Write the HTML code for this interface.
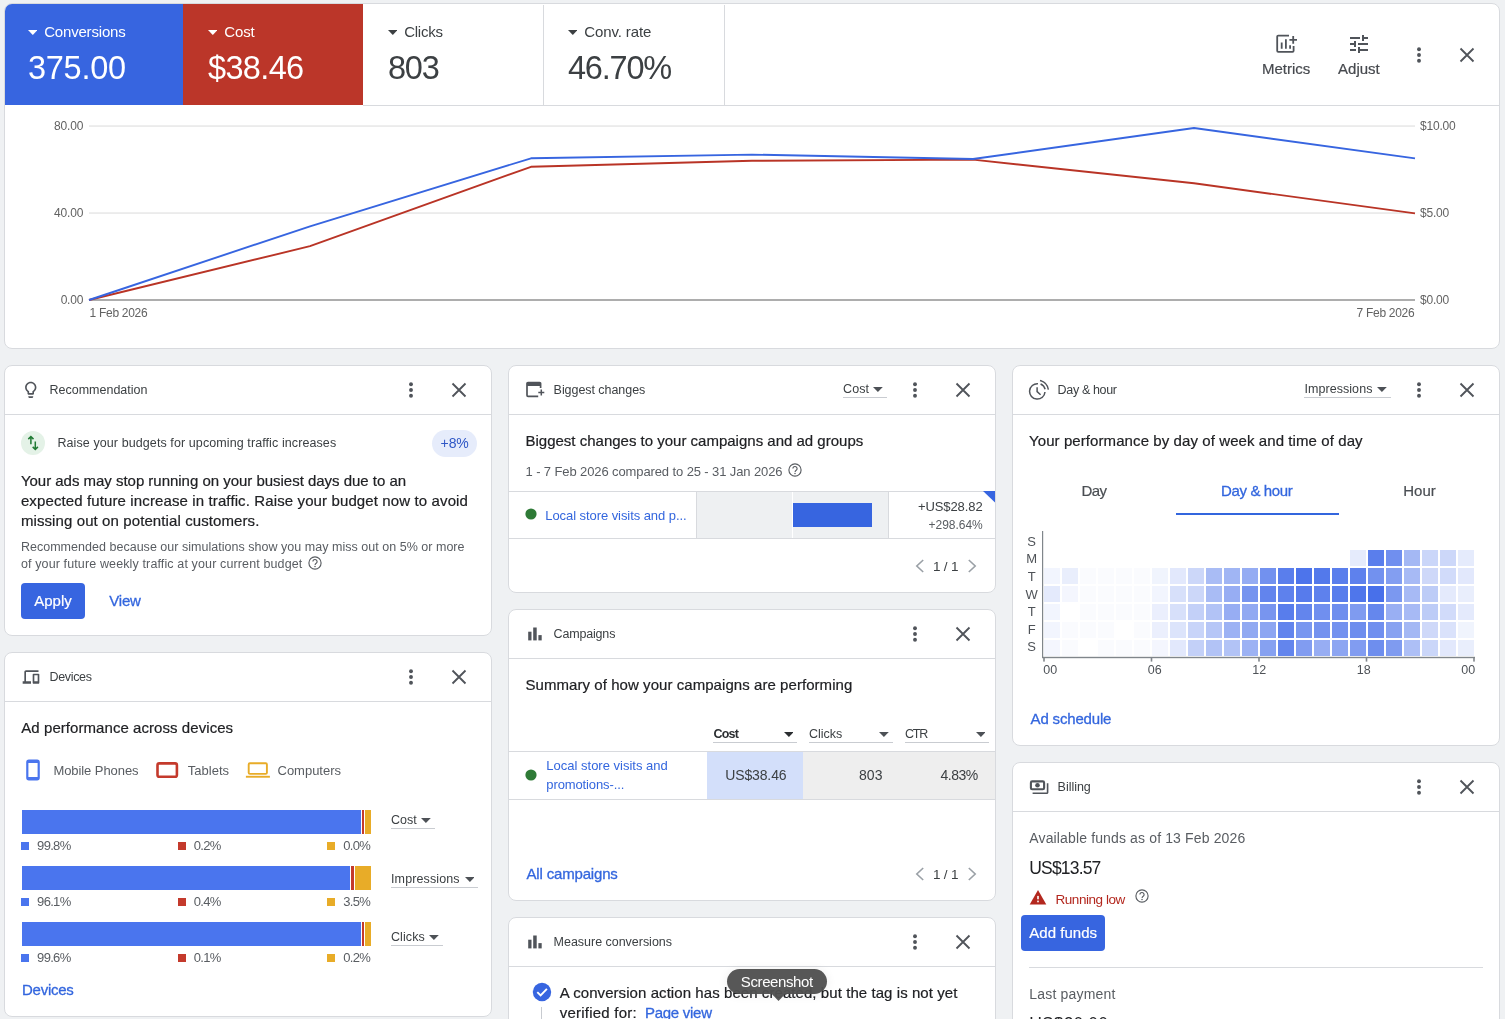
<!DOCTYPE html>
<html lang="en"><head><meta charset="utf-8"><title>Overview</title>
<style>
html,body{margin:0;padding:0;width:1505px;height:1019px;overflow:hidden}
body{width:1505px;height:1019px;position:relative;overflow:hidden;background:#eff1f3;
font-family:"Liberation Sans",sans-serif;-webkit-font-smoothing:antialiased}
.b{position:absolute;box-sizing:border-box;display:block}
.t{position:absolute;white-space:nowrap;line-height:1;margin:0}
.card{position:absolute;box-sizing:border-box;background:#fff;border:1px solid #d8dade;border-radius:8px}
#L{position:absolute;left:0;top:0;width:1505px;height:1019px;overflow:hidden;will-change:transform}
</style></head><body><div id="L">
<div class="card" style="left:4px;top:3px;width:1496px;height:346px;overflow:hidden;"></div>
<div class="b" style="left:5px;top:4px;width:178px;height:101px;background:#3765e0;border-radius:7px 0 0 0;"></div>
<div class="b" style="left:183px;top:4px;width:180px;height:101px;background:#bb3629;"></div>
<div class="b" style="left:363px;top:105px;width:1136px;height:1px;background:#d8dade;"></div>
<div class="b" style="left:543px;top:5px;width:1px;height:100px;background:#d8dade;"></div>
<div class="b" style="left:724px;top:5px;width:1px;height:100px;background:#d8dade;"></div>
<svg class="b" style="left:27.5px;top:29.6px;" width="9.6" height="5" viewBox="0 0 9.6 5"><path d="M0 0H9.6L4.8 5Z" fill="#fff"/></svg>
<div class="t" style="left:44.20px;top:24px;font-size:15px;color:#fff;letter-spacing:-0.187px;">Conversions</div>
<div class="t" style="left:28.00px;top:52px;font-size:32.5px;color:#fff;letter-spacing:-0.281px;">375.00</div>
<svg class="b" style="left:207.5px;top:29.6px;" width="9.6" height="5" viewBox="0 0 9.6 5"><path d="M0 0H9.6L4.8 5Z" fill="#fff"/></svg>
<div class="t" style="left:224.20px;top:24px;font-size:15px;color:#fff;letter-spacing:-0.081px;">Cost</div>
<div class="t" style="left:208.00px;top:52px;font-size:32.5px;color:#fff;letter-spacing:-0.641px;">$38.46</div>
<svg class="b" style="left:387.5px;top:29.6px;" width="9.6" height="5" viewBox="0 0 9.6 5"><path d="M0 0H9.6L4.8 5Z" fill="#3c4043"/></svg>
<div class="t" style="left:404.20px;top:24px;font-size:15px;color:#3c4043;letter-spacing:-0.240px;">Clicks</div>
<div class="t" style="left:388.00px;top:52px;font-size:32.5px;color:#3c4043;letter-spacing:-1.200px;">803</div>
<svg class="b" style="left:567.5px;top:29.6px;" width="9.6" height="5" viewBox="0 0 9.6 5"><path d="M0 0H9.6L4.8 5Z" fill="#3c4043"/></svg>
<div class="t" style="left:584.20px;top:24px;font-size:15px;color:#3c4043;letter-spacing:-0.099px;">Conv. rate</div>
<div class="t" style="left:568.00px;top:52px;font-size:32.5px;color:#3c4043;letter-spacing:-1.200px;">46.70%</div>
<svg class="b" style="left:1272.8px;top:30.7px;" width="26" height="24" viewBox="0 0 26 24"><path d="M16 4.6H5.2a1 1 0 0 0-1 1V19.8a1 1 0 0 0 1 1H19.6a1 1 0 0 0 1-1V15" fill="none" stroke="#50545a" stroke-width="1.8"/><path d="M8.7 11.4V17.8M12.9 8.2V17.8M17.1 14.3V17.8" stroke="#50545a" stroke-width="1.8" fill="none"/><path d="M16.4 8.9H24M20.2 5.1V12.7" stroke="#50545a" stroke-width="1.8" fill="none"/></svg>
<div class="t" style="left:1262.05px;top:61px;font-size:15px;color:#474a4f;letter-spacing:-0.006px;-webkit-text-stroke:0.2px #474a4f;">Metrics</div>
<svg class="b" style="left:1347px;top:32px;" width="24" height="24" viewBox="0 0 24 24"><path d="M3 17v2h6v-2H3zM3 5v2h10V5H3zm10 16v-2h8v-2h-8v-2h-2v6h2zM7 9v2H3v2h4v2h2V9H7zm14 4v-2H11v2h10zm-6-4h2V7h4V5h-4V3h-2v6z" fill="#50545a"/></svg>
<div class="t" style="left:1338.05px;top:61px;font-size:15px;color:#474a4f;-webkit-text-stroke:0.2px #474a4f;">Adjust</div>
<svg class="b" style="left:1415px;top:45px;" width="8" height="20" viewBox="0 -6 8 20"><circle cx="4" cy="-1.7999999999999998" r="1.95" fill="#50545a"/><circle cx="4" cy="4" r="1.95" fill="#50545a"/><circle cx="4" cy="9.8" r="1.95" fill="#50545a"/></svg>
<svg class="b" style="left:1457px;top:45px;" width="20" height="20" viewBox="0 0 20 20"><path d="M3.5 3.5L16.5 16.5M16.5 3.5L3.5 16.5" stroke="#50545a" stroke-width="1.85" fill="none"/></svg>
<svg class="b" style="left:0px;top:110px;" width="1505" height="230" viewBox="0 110 1505 230"><rect x="89" y="125.4" width="1326" height="1.3" fill="#e3e3e3"/><rect x="89" y="212.4" width="1326" height="1.3" fill="#e3e3e3"/><rect x="89" y="299.2" width="1326" height="1.6" fill="#9a9a9a"/><polyline points="89,300 310,246.2 531,166.8 752,160.8 973,159.6 1194,183.3 1415,213.4" fill="none" stroke="#b93426" stroke-width="1.9" stroke-linejoin="round"/><polyline points="89,300 310,226.3 531,158.3 752,154.6 973,159 1194,128 1415,158.4" fill="none" stroke="#3765e0" stroke-width="1.9" stroke-linejoin="round"/></svg>
<div class="t" style="left:54.12px;top:120px;font-size:12px;color:#626262;letter-spacing:-0.188px;">80.00</div>
<div class="t" style="left:1420.00px;top:120px;font-size:12px;color:#626262;letter-spacing:-0.184px;">$10.00</div>
<div class="t" style="left:54.12px;top:207px;font-size:12px;color:#626262;letter-spacing:-0.188px;">40.00</div>
<div class="t" style="left:1420.00px;top:207px;font-size:12px;color:#626262;letter-spacing:-0.188px;">$5.00</div>
<div class="t" style="left:60.63px;top:294px;font-size:12px;color:#626262;letter-spacing:-0.195px;">0.00</div>
<div class="t" style="left:1420.00px;top:294px;font-size:12px;color:#626262;letter-spacing:-0.188px;">$0.00</div>
<div class="t" style="left:89.60px;top:307px;font-size:12px;color:#626262;letter-spacing:-0.302px;">1 Feb 2026</div>
<div class="t" style="left:1356.60px;top:307px;font-size:12px;color:#626262;letter-spacing:-0.302px;">7 Feb 2026</div>
<div class="card" style="left:4px;top:365px;width:488px;height:271px;"></div>
<div class="b" style="left:5px;top:414px;width:486px;height:1px;background:#d8dade;"></div>
<div class="t" style="left:49.60px;top:384px;font-size:12.5px;color:#3c4043;letter-spacing:-0.013px;">Recommendation</div>
<svg class="b" style="left:406.9px;top:380.1px;" width="8" height="20" viewBox="0 -6 8 20"><circle cx="4" cy="-1.7999999999999998" r="1.95" fill="#50545a"/><circle cx="4" cy="4" r="1.95" fill="#50545a"/><circle cx="4" cy="9.8" r="1.95" fill="#50545a"/></svg>
<svg class="b" style="left:449.3px;top:380.1px;" width="20" height="20" viewBox="0 0 20 20"><path d="M3.5 3.5L16.5 16.5M16.5 3.5L3.5 16.5" stroke="#50545a" stroke-width="1.85" fill="none"/></svg>
<svg class="b" style="left:21.2px;top:380.3px;" width="19.5" height="19.5" viewBox="0 0 24 24"><path d="M9 21c0 .55.45 1 1 1h4c.55 0 1-.45 1-1v-1H9v1zm3-19C8.14 2 5 5.14 5 9c0 2.38 1.19 4.47 3 5.74V17c0 .55.45 1 1 1h6c.55 0 1-.45 1-1v-2.26c1.81-1.27 3-3.36 3-5.74 0-3.86-3.14-7-7-7zm2.85 11.1l-.85.6V16h-4v-2.3l-.85-.6C7.8 12.16 7 10.63 7 9c0-2.76 2.24-5 5-5s5 2.24 5 5c0 1.63-.8 3.16-2.15 4.1z" fill="#50545a"/></svg>
<svg class="b" style="left:21px;top:431px;" width="24" height="24" viewBox="0 0 24 24"><circle cx="12" cy="12" r="12" fill="#e4f2e7"/><path d="M9.9 13.2V5.6M7.3 8.1L9.9 5.5L12.5 8.1" fill="none" stroke="#1f7a33" stroke-width="1.5"/><path d="M14.3 10.6V18.4M11.7 15.9L14.3 18.5L16.9 15.9" fill="none" stroke="#1f7a33" stroke-width="1.5"/></svg>
<div class="t" style="left:57.40px;top:437px;font-size:12.5px;color:#3c4043;letter-spacing:0.095px;">Raise your budgets for upcoming traffic increases</div>
<div class="b" style="left:432px;top:429.5px;width:45px;height:27px;background:#e6ecfb;border-radius:14px;"></div>
<div class="t" style="left:440.60px;top:436px;font-size:14px;color:#2f57c6;letter-spacing:-0.105px;">+8%</div>
<div class="t" style="left:20.90px;top:473px;font-size:15px;color:#202124;letter-spacing:-0.021px;-webkit-text-stroke:0.2px #202124;">Your ads may stop running on your busiest days due to an</div>
<div class="t" style="left:20.90px;top:493px;font-size:15px;color:#202124;letter-spacing:0.119px;-webkit-text-stroke:0.2px #202124;">expected future increase in traffic. Raise your budget now to avoid</div>
<div class="t" style="left:20.90px;top:513px;font-size:15px;color:#202124;letter-spacing:0.099px;-webkit-text-stroke:0.2px #202124;">missing out on potential customers.</div>
<div class="t" style="left:20.90px;top:541px;font-size:12.5px;color:#595d62;letter-spacing:0.025px;">Recommended because our simulations show you may miss out on 5% or more</div>
<div class="t" style="left:20.90px;top:558px;font-size:12.5px;color:#595d62;letter-spacing:0.127px;">of your future weekly traffic at your current budget</div>
<svg class="b" style="left:306.7px;top:555.4px;" width="16" height="16" viewBox="0 0 16 16"><circle cx="8" cy="8" r="6.1" fill="none" stroke="#595d62" stroke-width="1.15"/><path d="M5.9 6.6a2.1 2.1 0 1 1 3.3 1.7c-.7.5-1.1.9-1.1 1.7" fill="none" stroke="#595d62" stroke-width="1.15"/><circle cx="8" cy="11.5" r=".75" fill="#595d62"/></svg>
<div class="b" style="left:21px;top:583px;width:64px;height:36px;background:#3765e0;border-radius:4px;"></div>
<div class="t" style="left:34.20px;top:593px;font-size:15px;color:#fff;letter-spacing:0.019px;-webkit-text-stroke:0.2px #fff;">Apply</div>
<div class="t" style="left:109.30px;top:593px;font-size:15px;color:#3366de;letter-spacing:-0.214px;-webkit-text-stroke:0.3px #3366de;">View</div>
<div class="card" style="left:4px;top:652px;width:488px;height:365px;"></div>
<div class="b" style="left:5px;top:701px;width:486px;height:1px;background:#d8dade;"></div>
<div class="t" style="left:49.60px;top:671px;font-size:12.5px;color:#3c4043;letter-spacing:-0.360px;">Devices</div>
<svg class="b" style="left:406.9px;top:667.1px;" width="8" height="20" viewBox="0 -6 8 20"><circle cx="4" cy="-1.7999999999999998" r="1.95" fill="#50545a"/><circle cx="4" cy="4" r="1.95" fill="#50545a"/><circle cx="4" cy="9.8" r="1.95" fill="#50545a"/></svg>
<svg class="b" style="left:449.3px;top:667.1px;" width="20" height="20" viewBox="0 0 20 20"><path d="M3.5 3.5L16.5 16.5M16.5 3.5L3.5 16.5" stroke="#50545a" stroke-width="1.85" fill="none"/></svg>
<svg class="b" style="left:21.3px;top:667.3px;" width="20" height="20" viewBox="0 -960 960 960"><path d="M80-160v-120h80v-440q0-33 23.500-56.500T240-800h600v80H240v440h240v120H80Zm520 0q-17 0-28.500-11.500T560-200v-400q0-17 11.500-28.500T600-640h240q17 0 28.500 11.500T880-600v400q0 17-11.500 28.500T840-160H600Zm40-120h160v-280H640v280Z" fill="#50545a"/></svg>
<div class="t" style="left:21.30px;top:720px;font-size:15px;color:#202124;letter-spacing:0.061px;-webkit-text-stroke:0.2px #202124;">Ad performance across devices</div>
<svg class="b" style="left:25px;top:758px;" width="16" height="24" viewBox="0 0 16 24"><rect x="2.3" y="2.7" width="11.4" height="18.6" rx="1.6" fill="none" stroke="#4a75ee" stroke-width="2.2"/><rect x="2" y="2" width="12" height="3" rx="1" fill="#4a75ee"/><rect x="2" y="19" width="12" height="3" rx="1" fill="#4a75ee"/></svg>
<div class="t" style="left:53.40px;top:764px;font-size:13px;color:#595d62;letter-spacing:-0.067px;">Mobile Phones</div>
<svg class="b" style="left:155px;top:761px;" width="24" height="18" viewBox="0 0 24 18"><rect x="2.5" y="2.4" width="19.4" height="13.4" rx="1.8" fill="none" stroke="#c43a2c" stroke-width="2.6"/></svg>
<div class="t" style="left:187.80px;top:764px;font-size:13px;color:#595d62;">Tablets</div>
<svg class="b" style="left:245px;top:761px;" width="26" height="18" viewBox="0 0 26 18"><rect x="3.7" y="2.3" width="18.2" height="10.6" rx="1.2" fill="none" stroke="#e8ac28" stroke-width="1.9"/><rect x="0.9" y="14.8" width="24" height="1.9" fill="#e8ac28"/></svg>
<div class="t" style="left:277.50px;top:764px;font-size:13px;color:#595d62;letter-spacing:-0.010px;">Computers</div>
<div class="b" style="left:22px;top:810px;width:339.2px;height:24px;background:#4a75ee;"></div>
<div class="b" style="left:362.4px;top:810px;width:1.5px;height:24px;background:#c43a2c;"></div>
<div class="b" style="left:365.0px;top:810px;width:6.199999999999989px;height:24px;background:#e8ac28;"></div>
<div class="b" style="left:21.4px;top:842px;width:8px;height:8px;background:#4a75ee;"></div>
<div class="t" style="left:37.10px;top:839px;font-size:13px;color:#595d62;letter-spacing:-0.690px;">99.8%</div>
<div class="b" style="left:178.1px;top:842px;width:8px;height:8px;background:#c43a2c;"></div>
<div class="t" style="left:193.80px;top:839px;font-size:13px;color:#595d62;letter-spacing:-0.677px;">0.2%</div>
<div class="b" style="left:326.8px;top:842px;width:8px;height:8px;background:#e8ac28;"></div>
<div class="t" style="left:343.20px;top:839px;font-size:13px;color:#595d62;letter-spacing:-0.677px;">0.0%</div>
<div class="t" style="left:391.00px;top:814px;font-size:12.5px;color:#3c4043;">Cost</div>
<svg class="b" style="left:421px;top:818px;" width="9.8" height="4.9" viewBox="0 0 9.8 4.9"><path d="M0 0H9.8L4.9 4.9Z" fill="#4d5156"/></svg>
<div class="b" style="left:391px;top:827.9px;width:44px;height:1px;background:#c9ccd1;"></div>
<div class="b" style="left:22px;top:866px;width:327.9px;height:24px;background:#4a75ee;"></div>
<div class="b" style="left:351.3px;top:866px;width:2.599999999999966px;height:24px;background:#c43a2c;"></div>
<div class="b" style="left:355.0px;top:866px;width:16.19999999999999px;height:24px;background:#e8ac28;"></div>
<div class="b" style="left:21.4px;top:898px;width:8px;height:8px;background:#4a75ee;"></div>
<div class="t" style="left:37.10px;top:895px;font-size:13px;color:#595d62;letter-spacing:-0.690px;">96.1%</div>
<div class="b" style="left:178.1px;top:898px;width:8px;height:8px;background:#c43a2c;"></div>
<div class="t" style="left:193.80px;top:895px;font-size:13px;color:#595d62;letter-spacing:-0.677px;">0.4%</div>
<div class="b" style="left:326.8px;top:898px;width:8px;height:8px;background:#e8ac28;"></div>
<div class="t" style="left:343.20px;top:895px;font-size:13px;color:#595d62;letter-spacing:-0.677px;">3.5%</div>
<div class="t" style="left:391.00px;top:873px;font-size:12.5px;color:#3c4043;letter-spacing:0.122px;">Impressions</div>
<svg class="b" style="left:464.6px;top:877px;" width="9.8" height="4.9" viewBox="0 0 9.8 4.9"><path d="M0 0H9.8L4.9 4.9Z" fill="#4d5156"/></svg>
<div class="b" style="left:391px;top:886.9px;width:87px;height:1px;background:#c9ccd1;"></div>
<div class="b" style="left:22px;top:922px;width:339.2px;height:24px;background:#4a75ee;"></div>
<div class="b" style="left:362.4px;top:922px;width:1.5px;height:24px;background:#c43a2c;"></div>
<div class="b" style="left:365.0px;top:922px;width:6.199999999999989px;height:24px;background:#e8ac28;"></div>
<div class="b" style="left:21.4px;top:954px;width:8px;height:8px;background:#4a75ee;"></div>
<div class="t" style="left:37.10px;top:951px;font-size:13px;color:#595d62;letter-spacing:-0.690px;">99.6%</div>
<div class="b" style="left:178.1px;top:954px;width:8px;height:8px;background:#c43a2c;"></div>
<div class="t" style="left:193.80px;top:951px;font-size:13px;color:#595d62;letter-spacing:-0.677px;">0.1%</div>
<div class="b" style="left:326.8px;top:954px;width:8px;height:8px;background:#e8ac28;"></div>
<div class="t" style="left:343.20px;top:951px;font-size:13px;color:#595d62;letter-spacing:-0.677px;">0.2%</div>
<div class="t" style="left:391.00px;top:931px;font-size:12.5px;color:#3c4043;letter-spacing:0.074px;">Clicks</div>
<svg class="b" style="left:429px;top:935px;" width="9.8" height="4.9" viewBox="0 0 9.8 4.9"><path d="M0 0H9.8L4.9 4.9Z" fill="#4d5156"/></svg>
<div class="b" style="left:391px;top:944.9px;width:52.19999999999999px;height:1px;background:#c9ccd1;"></div>
<div class="t" style="left:22.00px;top:982px;font-size:15px;color:#3366de;letter-spacing:-0.258px;-webkit-text-stroke:0.3px #3366de;">Devices</div>
<div class="card" style="left:508px;top:365px;width:488px;height:228px;"></div>
<div class="b" style="left:509px;top:414px;width:486px;height:1px;background:#d8dade;"></div>
<div class="t" style="left:553.60px;top:384px;font-size:12.5px;color:#3c4043;letter-spacing:-0.052px;">Biggest changes</div>
<svg class="b" style="left:910.9px;top:380.1px;" width="8" height="20" viewBox="0 -6 8 20"><circle cx="4" cy="-1.7999999999999998" r="1.95" fill="#50545a"/><circle cx="4" cy="4" r="1.95" fill="#50545a"/><circle cx="4" cy="9.8" r="1.95" fill="#50545a"/></svg>
<svg class="b" style="left:953.3px;top:380.1px;" width="20" height="20" viewBox="0 0 20 20"><path d="M3.5 3.5L16.5 16.5M16.5 3.5L3.5 16.5" stroke="#50545a" stroke-width="1.85" fill="none"/></svg>
<svg class="b" style="left:526px;top:380.3px;" width="20" height="18" viewBox="0 0 20 18"><path d="M14.6 8V3.6a1 1 0 0 0-1-1H2a1 1 0 0 0-1 1V15.3a1 1 0 0 0 1 1H12.2" fill="none" stroke="#50545a" stroke-width="1.7"/><rect x="1" y="2.6" width="13.6" height="3.4" fill="#50545a"/><path d="M12.3 12.4H18.3M15.3 9.4V15.4" stroke="#50545a" stroke-width="1.5" fill="none"/></svg>
<div class="t" style="left:843.00px;top:383px;font-size:12.5px;color:#3c4043;letter-spacing:0.099px;">Cost</div>
<svg class="b" style="left:873.3px;top:387px;" width="9.8" height="4.9" viewBox="0 0 9.8 4.9"><path d="M0 0H9.8L4.9 4.9Z" fill="#4d5156"/></svg>
<div class="b" style="left:843px;top:397px;width:44px;height:1px;background:#c9ccd1;"></div>
<div class="t" style="left:525.50px;top:433px;font-size:15px;color:#202124;-webkit-text-stroke:0.2px #202124;">Biggest changes to your campaigns and ad groups</div>
<div class="t" style="left:525.50px;top:465px;font-size:13px;color:#595d62;letter-spacing:-0.108px;">1 - 7 Feb 2026 compared to 25 - 31 Jan 2026</div>
<svg class="b" style="left:786.7px;top:462.4px;" width="16" height="16" viewBox="0 0 16 16"><circle cx="8" cy="8" r="6.1" fill="none" stroke="#595d62" stroke-width="1.15"/><path d="M5.9 6.6a2.1 2.1 0 1 1 3.3 1.7c-.7.5-1.1.9-1.1 1.7" fill="none" stroke="#595d62" stroke-width="1.15"/><circle cx="8" cy="11.5" r=".75" fill="#595d62"/></svg>
<div class="b" style="left:509px;top:491px;width:486px;height:1px;background:#d8dade;"></div>
<div class="b" style="left:509px;top:538px;width:486px;height:1px;background:#d8dade;"></div>
<div class="b" style="left:696px;top:492px;width:96px;height:46px;background:#eef0f2;"></div>
<div class="b" style="left:793px;top:492px;width:95px;height:46px;background:#eef0f2;"></div>
<div class="b" style="left:696px;top:492px;width:1px;height:46px;background:#d8dade;"></div>
<div class="b" style="left:888px;top:492px;width:1px;height:46px;background:#d8dade;"></div>
<div class="b" style="left:793px;top:503px;width:79px;height:24px;background:#3765e0;"></div>
<svg class="b" style="left:983px;top:491px;" width="12" height="12" viewBox="0 0 12 12"><path d="M0 0H12V11.5Z" fill="#3765e0"/></svg>
<svg class="b" style="left:525.2px;top:508.2px;" width="12" height="12" viewBox="0 0 12 12"><circle cx="6" cy="6" r="5.6" fill="#2e7a36"/></svg>
<div class="t" style="left:545.30px;top:509px;font-size:13px;color:#3366de;letter-spacing:-0.068px;">Local store visits and p...</div>
<div class="t" style="left:917.90px;top:500px;font-size:13px;color:#3c4043;letter-spacing:-0.077px;">+US$28.82</div>
<div class="t" style="left:928.60px;top:519px;font-size:12px;color:#595d62;letter-spacing:-0.040px;">+298.64%</div>
<svg class="b" style="left:915px;top:559.4px;" width="10" height="14" viewBox="0 0 10 14"><path d="M8.2 1L1.8 7L8.2 13" fill="none" stroke="#9aa0a6" stroke-width="1.6"/></svg>
<div class="t" style="left:932.90px;top:560px;font-size:13.5px;color:#3c4043;letter-spacing:-0.192px;">1 / 1</div>
<svg class="b" style="left:967px;top:559.4px;" width="10" height="14" viewBox="0 0 10 14"><path d="M1.8 1L8.2 7L1.8 13" fill="none" stroke="#9aa0a6" stroke-width="1.6"/></svg>
<div class="card" style="left:508px;top:609px;width:488px;height:292px;"></div>
<div class="b" style="left:509px;top:658px;width:486px;height:1px;background:#d8dade;"></div>
<div class="t" style="left:553.60px;top:628px;font-size:12.5px;color:#3c4043;letter-spacing:-0.179px;">Campaigns</div>
<svg class="b" style="left:910.9px;top:624.1px;" width="8" height="20" viewBox="0 -6 8 20"><circle cx="4" cy="-1.7999999999999998" r="1.95" fill="#50545a"/><circle cx="4" cy="4" r="1.95" fill="#50545a"/><circle cx="4" cy="9.8" r="1.95" fill="#50545a"/></svg>
<svg class="b" style="left:953.3px;top:624.1px;" width="20" height="20" viewBox="0 0 20 20"><path d="M3.5 3.5L16.5 16.5M16.5 3.5L3.5 16.5" stroke="#50545a" stroke-width="1.85" fill="none"/></svg>
<svg class="b" style="left:527px;top:626px;" width="16" height="16" viewBox="0 0 16 16"><rect x="1.2" y="5.7" width="3.3" height="8.7" fill="#50545a"/><rect x="6.2" y="1.5" width="3.5" height="12.9" fill="#50545a"/><rect x="11.4" y="9.1" width="3.3" height="5.3" fill="#50545a"/></svg>
<div class="t" style="left:525.50px;top:677px;font-size:15px;color:#202124;letter-spacing:0.058px;-webkit-text-stroke:0.2px #202124;">Summary of how your campaigns are performing</div>
<div class="t" style="left:713.40px;top:728px;font-size:12.5px;color:#2b2e31;letter-spacing:-0.759px;font-weight:700;">Cost</div>
<svg class="b" style="left:783.6px;top:732px;" width="9.8" height="4.9" viewBox="0 0 9.8 4.9"><path d="M0 0H9.8L4.9 4.9Z" fill="#2b2e31"/></svg>
<div class="b" style="left:713.4px;top:742.3px;width:83.20000000000005px;height:1px;background:#c9ccd1;"></div>
<div class="t" style="left:809.10px;top:728px;font-size:12.5px;color:#3c4043;letter-spacing:-0.026px;">Clicks</div>
<svg class="b" style="left:879.3px;top:732px;" width="9.8" height="4.9" viewBox="0 0 9.8 4.9"><path d="M0 0H9.8L4.9 4.9Z" fill="#4d5156"/></svg>
<div class="b" style="left:809.1px;top:742.3px;width:83.5px;height:1px;background:#c9ccd1;"></div>
<div class="t" style="left:905.00px;top:728px;font-size:12.5px;color:#3c4043;letter-spacing:-1.200px;">CTR</div>
<svg class="b" style="left:975.6px;top:732px;" width="9.8" height="4.9" viewBox="0 0 9.8 4.9"><path d="M0 0H9.8L4.9 4.9Z" fill="#4d5156"/></svg>
<div class="b" style="left:905px;top:742.3px;width:84px;height:1px;background:#c9ccd1;"></div>
<div class="b" style="left:707px;top:751px;width:96px;height:48px;background:#d3dffa;"></div>
<div class="b" style="left:803px;top:751px;width:192px;height:48px;background:#eeeeee;"></div>
<div class="b" style="left:509px;top:751px;width:486px;height:1px;background:#d8dade;"></div>
<div class="b" style="left:509px;top:799px;width:486px;height:1px;background:#d8dade;"></div>
<svg class="b" style="left:525px;top:768.5px;" width="12" height="12" viewBox="0 0 12 12"><circle cx="6" cy="6" r="5.6" fill="#2e7a36"/></svg>
<div class="t" style="left:546.30px;top:759px;font-size:13px;color:#3366de;letter-spacing:0.005px;">Local store visits and</div>
<div class="t" style="left:546.30px;top:778px;font-size:13px;color:#3366de;letter-spacing:-0.113px;">promotions-...</div>
<div class="t" style="left:725.20px;top:768px;font-size:14px;color:#3c4043;letter-spacing:-0.124px;">US$38.46</div>
<div class="t" style="left:859.00px;top:768px;font-size:14px;color:#3c4043;letter-spacing:0.070px;">803</div>
<div class="t" style="left:940.60px;top:768px;font-size:14px;color:#3c4043;letter-spacing:-0.524px;">4.83%</div>
<div class="t" style="left:526.50px;top:866px;font-size:15px;color:#3366de;letter-spacing:-0.173px;-webkit-text-stroke:0.3px #3366de;">All campaigns</div>
<svg class="b" style="left:915px;top:867.1px;" width="10" height="14" viewBox="0 0 10 14"><path d="M8.2 1L1.8 7L8.2 13" fill="none" stroke="#9aa0a6" stroke-width="1.6"/></svg>
<div class="t" style="left:932.90px;top:868px;font-size:13.5px;color:#3c4043;letter-spacing:-0.192px;">1 / 1</div>
<svg class="b" style="left:967px;top:867.1px;" width="10" height="14" viewBox="0 0 10 14"><path d="M1.8 1L8.2 7L1.8 13" fill="none" stroke="#9aa0a6" stroke-width="1.6"/></svg>
<div class="card" style="left:508px;top:917px;width:488px;height:140px;"></div>
<div class="b" style="left:509px;top:966px;width:486px;height:1px;background:#d8dade;"></div>
<div class="t" style="left:553.60px;top:936px;font-size:12.5px;color:#3c4043;letter-spacing:-0.023px;">Measure conversions</div>
<svg class="b" style="left:910.9px;top:932.1px;" width="8" height="20" viewBox="0 -6 8 20"><circle cx="4" cy="-1.7999999999999998" r="1.95" fill="#50545a"/><circle cx="4" cy="4" r="1.95" fill="#50545a"/><circle cx="4" cy="9.8" r="1.95" fill="#50545a"/></svg>
<svg class="b" style="left:953.3px;top:932.1px;" width="20" height="20" viewBox="0 0 20 20"><path d="M3.5 3.5L16.5 16.5M16.5 3.5L3.5 16.5" stroke="#50545a" stroke-width="1.85" fill="none"/></svg>
<svg class="b" style="left:527px;top:934px;" width="16" height="16" viewBox="0 0 16 16"><rect x="1.2" y="5.7" width="3.3" height="8.7" fill="#50545a"/><rect x="6.2" y="1.5" width="3.5" height="12.9" fill="#50545a"/><rect x="11.4" y="9.1" width="3.3" height="5.3" fill="#50545a"/></svg>
<svg class="b" style="left:532px;top:982.2px;" width="20" height="20" viewBox="0 0 20 20"><circle cx="10" cy="10" r="9.2" fill="#3765e0"/><path d="M5.3 10.2L8.6 13.5L14.9 6.8" fill="none" stroke="#fff" stroke-width="1.9"/></svg>
<div class="b" style="left:541px;top:1007px;width:1px;height:20px;background:#c8cbd0;"></div>
<div class="t" style="left:559.70px;top:985px;font-size:15px;color:#202124;letter-spacing:0.070px;-webkit-text-stroke:0.2px #202124;">A conversion action has been created, but the tag is not yet</div>
<div class="t" style="left:559.70px;top:1005px;font-size:15px;color:#202124;letter-spacing:0.234px;-webkit-text-stroke:0.2px #202124;">verified for:</div>
<div class="t" style="left:645.00px;top:1005px;font-size:15px;color:#3366de;letter-spacing:-0.276px;-webkit-text-stroke:0.3px #3366de;">Page view</div>
<div class="b" style="left:727.3px;top:969.1px;width:99.7px;height:25.2px;background:rgba(80,80,80,.96);border-radius:12.6px;box-shadow:0 1px 8px 2px rgba(0,0,0,.05);"></div>
<svg class="b" style="left:770.5px;top:994.2px;" width="15" height="8" viewBox="0 0 15 8"><path d="M0.8 0H14.2L7.5 6.9Z" fill="rgba(80,80,80,.96)"/></svg>
<div class="t" style="left:740.80px;top:974px;font-size:15px;color:#fff;letter-spacing:-0.387px;">Screenshot</div>
<div class="card" style="left:1012px;top:365px;width:488px;height:381px;"></div>
<div class="b" style="left:1013px;top:414px;width:486px;height:1px;background:#d8dade;"></div>
<div class="t" style="left:1057.60px;top:384px;font-size:12.5px;color:#3c4043;letter-spacing:-0.348px;">Day &amp; hour</div>
<svg class="b" style="left:1414.9px;top:380.1px;" width="8" height="20" viewBox="0 -6 8 20"><circle cx="4" cy="-1.7999999999999998" r="1.95" fill="#50545a"/><circle cx="4" cy="4" r="1.95" fill="#50545a"/><circle cx="4" cy="9.8" r="1.95" fill="#50545a"/></svg>
<svg class="b" style="left:1457.3px;top:380.1px;" width="20" height="20" viewBox="0 0 20 20"><path d="M3.5 3.5L16.5 16.5M16.5 3.5L3.5 16.5" stroke="#50545a" stroke-width="1.85" fill="none"/></svg>
<svg class="b" style="left:1028px;top:378px;" width="22" height="22" viewBox="0 0 22 22"><path d="M16.98 13.94A7.7 7.7 0 1 1 9.97 5.73" fill="none" stroke="#50545a" stroke-width="1.5"/><path d="M12.59 6.00A8.1 8.1 0 0 1 17.12 11.30" fill="none" stroke="#50545a" stroke-width="1.5"/><path d="M12.01 2.53A11.2 11.2 0 0 1 20.36 11.65" fill="none" stroke="#50545a" stroke-width="1.5"/><path d="M9.100000000000001 9.2V13.6L12.600000000000001 16.7" fill="none" stroke="#50545a" stroke-width="1.5"/></svg>
<div class="t" style="left:1304.40px;top:383px;font-size:12.5px;color:#3c4043;letter-spacing:0.062px;">Impressions</div>
<svg class="b" style="left:1377.1px;top:387px;" width="9.8" height="4.9" viewBox="0 0 9.8 4.9"><path d="M0 0H9.8L4.9 4.9Z" fill="#4d5156"/></svg>
<div class="b" style="left:1304.4px;top:397px;width:86.59999999999991px;height:1px;background:#c9ccd1;"></div>
<div class="t" style="left:1029.00px;top:433px;font-size:15px;color:#202124;letter-spacing:0.086px;-webkit-text-stroke:0.2px #202124;">Your performance by day of week and time of day</div>
<div class="t" style="left:1081.40px;top:483px;font-size:15px;color:#4a4e53;letter-spacing:-0.538px;-webkit-text-stroke:0.2px #4a4e53;">Day</div>
<div class="t" style="left:1221.05px;top:483px;font-size:15px;color:#3366de;letter-spacing:-0.371px;-webkit-text-stroke:0.3px #3366de;">Day &amp; hour</div>
<div class="t" style="left:1403.25px;top:483px;font-size:15px;color:#4a4e53;letter-spacing:-0.005px;-webkit-text-stroke:0.2px #4a4e53;">Hour</div>
<div class="b" style="left:1175.5px;top:513px;width:163px;height:2px;background:#3366de;"></div>
<svg class="b" style="left:1020px;top:525px;" width="470" height="145" viewBox="1020 525 470 145"><rect x="1350" y="550" width="16" height="16" fill="rgb(229,235,252)"/><rect x="1368" y="550" width="16" height="16" fill="rgb(90,126,236)"/><rect x="1386" y="550" width="16" height="16" fill="rgb(112,143,239)"/><rect x="1404" y="550" width="16" height="16" fill="rgb(164,184,244)"/><rect x="1422" y="550" width="16" height="16" fill="rgb(202,214,249)"/><rect x="1440" y="550" width="16" height="16" fill="rgb(204,215,249)"/><rect x="1458" y="550" width="16" height="16" fill="rgb(229,235,252)"/><rect x="1044" y="568" width="16" height="16" fill="rgb(242,245,254)"/><rect x="1062" y="568" width="16" height="16" fill="rgb(233,238,252)"/><rect x="1080" y="568" width="16" height="16" fill="rgb(250,251,254)"/><rect x="1098" y="568" width="16" height="16" fill="rgb(250,251,254)"/><rect x="1116" y="568" width="16" height="16" fill="rgb(250,251,254)"/><rect x="1134" y="568" width="16" height="16" fill="rgb(250,251,254)"/><rect x="1152" y="568" width="16" height="16" fill="rgb(240,244,253)"/><rect x="1170" y="568" width="16" height="16" fill="rgb(226,232,252)"/><rect x="1188" y="568" width="16" height="16" fill="rgb(204,215,249)"/><rect x="1206" y="568" width="16" height="16" fill="rgb(169,188,245)"/><rect x="1224" y="568" width="16" height="16" fill="rgb(160,181,244)"/><rect x="1242" y="568" width="16" height="16" fill="rgb(149,172,243)"/><rect x="1260" y="568" width="16" height="16" fill="rgb(114,145,239)"/><rect x="1278" y="568" width="16" height="16" fill="rgb(90,126,236)"/><rect x="1296" y="568" width="16" height="16" fill="rgb(77,116,235)"/><rect x="1314" y="568" width="16" height="16" fill="rgb(83,121,235)"/><rect x="1332" y="568" width="16" height="16" fill="rgb(90,126,236)"/><rect x="1350" y="568" width="16" height="16" fill="rgb(94,129,237)"/><rect x="1368" y="568" width="16" height="16" fill="rgb(114,145,239)"/><rect x="1386" y="568" width="16" height="16" fill="rgb(131,158,241)"/><rect x="1404" y="568" width="16" height="16" fill="rgb(167,186,245)"/><rect x="1422" y="568" width="16" height="16" fill="rgb(206,216,249)"/><rect x="1440" y="568" width="16" height="16" fill="rgb(209,219,250)"/><rect x="1458" y="568" width="16" height="16" fill="rgb(226,232,252)"/><rect x="1044" y="586" width="16" height="16" fill="rgb(228,234,252)"/><rect x="1062" y="586" width="16" height="16" fill="rgb(244,246,254)"/><rect x="1080" y="586" width="16" height="16" fill="rgb(250,251,254)"/><rect x="1098" y="586" width="16" height="16" fill="rgb(250,251,254)"/><rect x="1116" y="586" width="16" height="16" fill="rgb(250,251,254)"/><rect x="1134" y="586" width="16" height="16" fill="rgb(250,251,254)"/><rect x="1152" y="586" width="16" height="16" fill="rgb(242,245,254)"/><rect x="1170" y="586" width="16" height="16" fill="rgb(215,224,250)"/><rect x="1188" y="586" width="16" height="16" fill="rgb(204,215,249)"/><rect x="1206" y="586" width="16" height="16" fill="rgb(169,188,245)"/><rect x="1224" y="586" width="16" height="16" fill="rgb(151,173,243)"/><rect x="1242" y="586" width="16" height="16" fill="rgb(118,148,239)"/><rect x="1260" y="586" width="16" height="16" fill="rgb(98,132,237)"/><rect x="1278" y="586" width="16" height="16" fill="rgb(94,129,237)"/><rect x="1296" y="586" width="16" height="16" fill="rgb(87,123,236)"/><rect x="1314" y="586" width="16" height="16" fill="rgb(94,129,237)"/><rect x="1332" y="586" width="16" height="16" fill="rgb(88,125,236)"/><rect x="1350" y="586" width="16" height="16" fill="rgb(79,118,235)"/><rect x="1368" y="586" width="16" height="16" fill="rgb(72,112,234)"/><rect x="1386" y="586" width="16" height="16" fill="rgb(123,152,240)"/><rect x="1404" y="586" width="16" height="16" fill="rgb(167,186,245)"/><rect x="1422" y="586" width="16" height="16" fill="rgb(189,204,247)"/><rect x="1440" y="586" width="16" height="16" fill="rgb(228,234,252)"/><rect x="1458" y="586" width="16" height="16" fill="rgb(233,238,252)"/><rect x="1044" y="604" width="16" height="16" fill="rgb(242,245,254)"/><rect x="1080" y="604" width="16" height="16" fill="rgb(250,251,254)"/><rect x="1098" y="604" width="16" height="16" fill="rgb(250,251,254)"/><rect x="1116" y="604" width="16" height="16" fill="rgb(250,251,254)"/><rect x="1134" y="604" width="16" height="16" fill="rgb(250,251,254)"/><rect x="1152" y="604" width="16" height="16" fill="rgb(235,239,253)"/><rect x="1170" y="604" width="16" height="16" fill="rgb(215,224,250)"/><rect x="1188" y="604" width="16" height="16" fill="rgb(195,208,248)"/><rect x="1206" y="604" width="16" height="16" fill="rgb(178,195,246)"/><rect x="1224" y="604" width="16" height="16" fill="rgb(151,173,243)"/><rect x="1242" y="604" width="16" height="16" fill="rgb(145,169,242)"/><rect x="1260" y="604" width="16" height="16" fill="rgb(120,149,239)"/><rect x="1278" y="604" width="16" height="16" fill="rgb(88,125,236)"/><rect x="1296" y="604" width="16" height="16" fill="rgb(99,133,237)"/><rect x="1314" y="604" width="16" height="16" fill="rgb(112,143,239)"/><rect x="1332" y="604" width="16" height="16" fill="rgb(110,142,238)"/><rect x="1350" y="604" width="16" height="16" fill="rgb(127,155,240)"/><rect x="1368" y="604" width="16" height="16" fill="rgb(101,135,237)"/><rect x="1386" y="604" width="16" height="16" fill="rgb(153,175,243)"/><rect x="1404" y="604" width="16" height="16" fill="rgb(167,186,245)"/><rect x="1422" y="604" width="16" height="16" fill="rgb(189,204,247)"/><rect x="1440" y="604" width="16" height="16" fill="rgb(209,219,250)"/><rect x="1458" y="604" width="16" height="16" fill="rgb(228,234,252)"/><rect x="1044" y="622" width="16" height="16" fill="rgb(242,245,254)"/><rect x="1062" y="622" width="16" height="16" fill="rgb(250,251,254)"/><rect x="1080" y="622" width="16" height="16" fill="rgb(250,251,254)"/><rect x="1098" y="622" width="16" height="16" fill="rgb(250,251,254)"/><rect x="1134" y="622" width="16" height="16" fill="rgb(250,251,254)"/><rect x="1152" y="622" width="16" height="16" fill="rgb(235,239,253)"/><rect x="1170" y="622" width="16" height="16" fill="rgb(220,228,251)"/><rect x="1188" y="622" width="16" height="16" fill="rgb(200,212,249)"/><rect x="1206" y="622" width="16" height="16" fill="rgb(182,198,247)"/><rect x="1224" y="622" width="16" height="16" fill="rgb(156,178,244)"/><rect x="1242" y="622" width="16" height="16" fill="rgb(145,169,242)"/><rect x="1260" y="622" width="16" height="16" fill="rgb(140,165,242)"/><rect x="1278" y="622" width="16" height="16" fill="rgb(98,132,237)"/><rect x="1296" y="622" width="16" height="16" fill="rgb(121,151,240)"/><rect x="1314" y="622" width="16" height="16" fill="rgb(116,146,239)"/><rect x="1332" y="622" width="16" height="16" fill="rgb(116,146,239)"/><rect x="1350" y="622" width="16" height="16" fill="rgb(109,141,238)"/><rect x="1368" y="622" width="16" height="16" fill="rgb(112,143,239)"/><rect x="1386" y="622" width="16" height="16" fill="rgb(136,162,241)"/><rect x="1404" y="622" width="16" height="16" fill="rgb(164,184,244)"/><rect x="1422" y="622" width="16" height="16" fill="rgb(206,216,249)"/><rect x="1440" y="622" width="16" height="16" fill="rgb(218,226,251)"/><rect x="1458" y="622" width="16" height="16" fill="rgb(240,244,253)"/><rect x="1044" y="640" width="16" height="16" fill="rgb(244,246,254)"/><rect x="1062" y="640" width="16" height="16" fill="rgb(250,251,254)"/><rect x="1098" y="640" width="16" height="16" fill="rgb(250,251,254)"/><rect x="1116" y="640" width="16" height="16" fill="rgb(250,251,254)"/><rect x="1134" y="640" width="16" height="16" fill="rgb(250,251,254)"/><rect x="1152" y="640" width="16" height="16" fill="rgb(244,246,254)"/><rect x="1170" y="640" width="16" height="16" fill="rgb(226,232,252)"/><rect x="1188" y="640" width="16" height="16" fill="rgb(195,208,248)"/><rect x="1206" y="640" width="16" height="16" fill="rgb(178,195,246)"/><rect x="1224" y="640" width="16" height="16" fill="rgb(178,195,246)"/><rect x="1242" y="640" width="16" height="16" fill="rgb(156,178,244)"/><rect x="1260" y="640" width="16" height="16" fill="rgb(134,161,241)"/><rect x="1278" y="640" width="16" height="16" fill="rgb(99,133,237)"/><rect x="1296" y="640" width="16" height="16" fill="rgb(129,156,241)"/><rect x="1314" y="640" width="16" height="16" fill="rgb(151,173,243)"/><rect x="1332" y="640" width="16" height="16" fill="rgb(140,165,242)"/><rect x="1350" y="640" width="16" height="16" fill="rgb(129,156,241)"/><rect x="1368" y="640" width="16" height="16" fill="rgb(110,142,238)"/><rect x="1386" y="640" width="16" height="16" fill="rgb(127,155,240)"/><rect x="1404" y="640" width="16" height="16" fill="rgb(173,191,246)"/><rect x="1422" y="640" width="16" height="16" fill="rgb(202,214,249)"/><rect x="1440" y="640" width="16" height="16" fill="rgb(226,232,252)"/><rect x="1458" y="640" width="16" height="16" fill="rgb(233,238,252)"/><rect x="1042" y="531" width="1.2" height="127" fill="#80868b"/><rect x="1042" y="656.8" width="433" height="1.4" fill="#80868b"/><rect x="1043.2" y="657" width="1.6" height="4.6" fill="#80868b"/><rect x="1150.7" y="657" width="1.6" height="4.6" fill="#80868b"/><rect x="1258.2" y="657" width="1.6" height="4.6" fill="#80868b"/><rect x="1365.7" y="657" width="1.6" height="4.6" fill="#80868b"/><rect x="1473.2" y="657" width="1.6" height="4.6" fill="#80868b"/></svg>
<div class="t" style="left:1027.26px;top:535px;font-size:13px;color:#4f5358;">S</div>
<div class="t" style="left:1026.19px;top:552px;font-size:13px;color:#4f5358;">M</div>
<div class="t" style="left:1027.63px;top:570px;font-size:13px;color:#4f5358;">T</div>
<div class="t" style="left:1025.47px;top:588px;font-size:13px;color:#4f5358;">W</div>
<div class="t" style="left:1027.63px;top:605px;font-size:13px;color:#4f5358;">T</div>
<div class="t" style="left:1027.63px;top:623px;font-size:13px;color:#4f5358;">F</div>
<div class="t" style="left:1027.26px;top:640px;font-size:13px;color:#4f5358;">S</div>
<div class="t" style="left:1043.35px;top:664px;font-size:12.5px;color:#4f5358;">00</div>
<div class="t" style="left:1147.85px;top:664px;font-size:12.5px;color:#4f5358;">06</div>
<div class="t" style="left:1252.35px;top:664px;font-size:12.5px;color:#4f5358;">12</div>
<div class="t" style="left:1356.85px;top:664px;font-size:12.5px;color:#4f5358;">18</div>
<div class="t" style="left:1461.35px;top:664px;font-size:12.5px;color:#4f5358;">00</div>
<div class="t" style="left:1030.60px;top:711px;font-size:15px;color:#3366de;letter-spacing:-0.176px;-webkit-text-stroke:0.3px #3366de;">Ad schedule</div>
<div class="card" style="left:1012px;top:762px;width:488px;height:300px;"></div>
<div class="b" style="left:1013px;top:811px;width:486px;height:1px;background:#d8dade;"></div>
<div class="t" style="left:1057.60px;top:781px;font-size:12.5px;color:#3c4043;letter-spacing:-0.025px;">Billing</div>
<svg class="b" style="left:1414.9px;top:777.1px;" width="8" height="20" viewBox="0 -6 8 20"><circle cx="4" cy="-1.7999999999999998" r="1.95" fill="#50545a"/><circle cx="4" cy="4" r="1.95" fill="#50545a"/><circle cx="4" cy="9.8" r="1.95" fill="#50545a"/></svg>
<svg class="b" style="left:1457.3px;top:777.1px;" width="20" height="20" viewBox="0 0 20 20"><path d="M3.5 3.5L16.5 16.5M16.5 3.5L3.5 16.5" stroke="#50545a" stroke-width="1.85" fill="none"/></svg>
<svg class="b" style="left:1029px;top:779px;" width="21" height="16" viewBox="0 0 21 16"><rect x="1.9" y="2.4" width="13.2" height="7.8" rx="1.3" fill="none" stroke="#50545a" stroke-width="2.1"/><circle cx="8.5" cy="6.3" r="2.3" fill="#50545a"/><path d="M18.6 4.2V13.4a.9 .9 0 0 1-.9 .9H3.6" fill="none" stroke="#50545a" stroke-width="1.6"/></svg>
<div class="t" style="left:1029.30px;top:831px;font-size:14px;color:#595d62;letter-spacing:0.139px;">Available funds as of 13 Feb 2026</div>
<div class="t" style="left:1029.30px;top:860px;font-size:17.5px;color:#202124;letter-spacing:-0.834px;">US$13.57</div>
<svg class="b" style="left:1029px;top:889.2px;" width="18" height="16" viewBox="0 0 18 16"><path d="M9 1.1L17.3 15.5H0.7Z" fill="#b3271e"/><rect x="8.2" y="6.9" width="1.6" height="3.4" fill="#fff"/><rect x="8.2" y="11.6" width="1.6" height="1.7" fill="#fff"/></svg>
<div class="t" style="left:1055.50px;top:893px;font-size:13.5px;color:#b3271e;letter-spacing:-0.450px;">Running low</div>
<svg class="b" style="left:1133.6px;top:887.9px;" width="16" height="16" viewBox="0 0 16 16"><circle cx="8" cy="8" r="6.1" fill="none" stroke="#595d62" stroke-width="1.15"/><path d="M5.9 6.6a2.1 2.1 0 1 1 3.3 1.7c-.7.5-1.1.9-1.1 1.7" fill="none" stroke="#595d62" stroke-width="1.15"/><circle cx="8" cy="11.5" r=".75" fill="#595d62"/></svg>
<div class="b" style="left:1021px;top:915px;width:84px;height:36px;background:#3765e0;border-radius:4px;"></div>
<div class="t" style="left:1029.30px;top:925px;font-size:15px;color:#fff;letter-spacing:0.018px;-webkit-text-stroke:0.2px #fff;">Add funds</div>
<div class="b" style="left:1029.3px;top:967px;width:453.4000000000001px;height:1px;background:#d8dade;"></div>
<div class="t" style="left:1029.30px;top:987px;font-size:14px;color:#595d62;letter-spacing:0.177px;">Last payment</div>
<div class="t" style="left:1029.30px;top:1016px;font-size:17.5px;color:#202124;letter-spacing:0.109px;">US$20.00</div>
</div></body></html>
